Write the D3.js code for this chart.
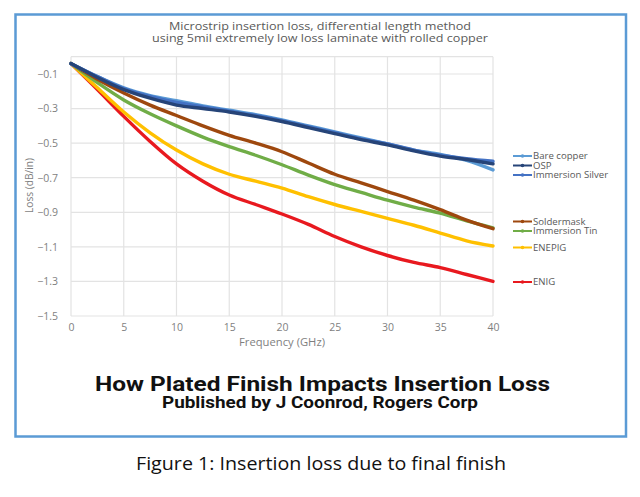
<!DOCTYPE html>
<html><head><meta charset="utf-8">
<script src="https://cdn.jsdelivr.net/npm/d3@7"></script>
<style>
html,body{margin:0;padding:0;background:#fff;}
svg{display:block;}
</style></head>
<body>
<svg id="chart" width="640" height="497"></svg>
<script>
// ---- data ----
const freqs = [0, 2.5, 5, 7.5, 10, 12.5, 15, 17.5, 20, 22.5, 25, 27.5, 30, 32.5, 35, 37.5, 40];
const seriesNames = ["Bare copper", "OSP", "Immersion Silver", "Soldermask", "Immersion Tin", "ENEPIG", "ENIG"];
const bareCopper = [-0.04, -0.115, -0.18, -0.225, -0.255, -0.285, -0.31, -0.335, -0.365, -0.40, -0.435, -0.47, -0.505, -0.54, -0.565, -0.60, -0.655];
const osp = [-0.04, -0.12, -0.19, -0.24, -0.28, -0.30, -0.32, -0.345, -0.375, -0.41, -0.445, -0.48, -0.51, -0.545, -0.575, -0.595, -0.62];
const immersionSilver = [-0.04, -0.115, -0.185, -0.23, -0.265, -0.29, -0.315, -0.34, -0.37, -0.405, -0.44, -0.475, -0.505, -0.54, -0.57, -0.59, -0.605];
const soldermask = [-0.04, -0.13, -0.21, -0.28, -0.34, -0.40, -0.455, -0.50, -0.55, -0.615, -0.68, -0.73, -0.78, -0.83, -0.885, -0.945, -0.995];
const immersionTin = [-0.04, -0.15, -0.25, -0.33, -0.40, -0.465, -0.52, -0.57, -0.625, -0.685, -0.74, -0.785, -0.83, -0.87, -0.905, -0.95, -0.99];
const enepig = [-0.04, -0.18, -0.32, -0.44, -0.54, -0.62, -0.68, -0.72, -0.76, -0.81, -0.855, -0.895, -0.935, -0.975, -1.02, -1.065, -1.095];
const enig = [-0.04, -0.19, -0.345, -0.49, -0.62, -0.72, -0.80, -0.855, -0.91, -0.97, -1.04, -1.10, -1.15, -1.19, -1.22, -1.26, -1.30];
const xTicks = [0, 5, 10, 15, 20, 25, 30, 35, 40];
const yTicks = [-0.1, -0.3, -0.5, -0.7, -0.9, -1.1, -1.3, -1.5];
const titleLines = ["Microstrip insertion loss, differential  length method", "using 5mil extremely  low loss laminate with rolled copper"];
const headline = "How Plated Finish Impacts Insertion Loss";
const subline = "Published by J Coonrod, Rogers Corp";
const caption = "Figure 1: Insertion loss due to final finish";

// ---- style / layout ----
const colors = ["#5b9bd5", "#264478", "#4472c4", "#9e480e", "#70ad47", "#ffc000", "#e8191f"];
const drawOrder = [6, 5, 4, 3, 0, 2, 1];
const legendRowY = [156, 165.5, 175, 221.5, 231, 247.5, 282];
const values = [bareCopper, osp, immersionSilver, soldermask, immersionTin, enepig, enig];

const svg = d3.select("#chart");
const plot = {left: 71, right: 493, top: 56.7, bottom: 316};
const x = d3.scaleLinear().domain([0, 40]).range([plot.left, plot.right]);
const y = d3.scaleLinear().domain([-1.5, 0]).range([plot.bottom, plot.top]);
const font = "'Open Sans', sans-serif";
const boldFont = "Roboto, 'Open Sans', sans-serif";

function fitText(sel, width) {
  sel.attr("textLength", width).attr("lengthAdjust", "spacingAndGlyphs");
}

// border box
svg.append("rect").attr("x", 15.5).attr("y", 14.5).attr("width", 610.5).attr("height", 422)
  .attr("fill", "none").attr("stroke", "#5b9bd5").attr("stroke-width", 2.5);

// title
const titleWidths = [302, 336];
titleLines.forEach((t, i) => {
  svg.append("text").attr("x", 320).attr("y", 30 + i * 12)
    .attr("text-anchor", "middle").attr("font-family", font).attr("font-size", 10.8)
    .attr("fill", "#595959").text(t).call(fitText, titleWidths[i]);
});

// gridlines
const grid = svg.append("g");
grid.selectAll("line.h").data(yTicks.concat([0])).join("line")
  .attr("x1", plot.left).attr("x2", plot.right)
  .attr("y1", d => y(d)).attr("y2", d => y(d))
  .attr("stroke", "#e3e3e3").attr("stroke-width", 1.2);
grid.selectAll("line.v").data(xTicks).join("line")
  .attr("y1", plot.top).attr("y2", plot.bottom)
  .attr("x1", d => x(d)).attr("x2", d => x(d))
  .attr("stroke", "#e3e3e3").attr("stroke-width", 1.2);

// axes
const xAxis = svg.append("g").attr("transform", `translate(0,${plot.bottom})`)
  .call(d3.axisBottom(x).tickValues(xTicks).tickSize(0).tickPadding(8).tickFormat(d3.format("d")));
const yAxis = svg.append("g").attr("transform", `translate(${plot.left},0)`)
  .call(d3.axisLeft(y).tickValues(yTicks).tickSize(0).tickPadding(13).tickFormat(d3.format(".1f")));
[xAxis, yAxis].forEach(a => {
  a.select(".domain").remove();
  a.selectAll("text").attr("font-family", font).attr("font-size", 10.5).attr("fill", "#7f7f7f");
});

svg.append("text").attr("x", 282).attr("y", 346).attr("text-anchor", "middle")
  .attr("font-family", font).attr("font-size", 10).attr("fill", "#7f7f7f").text("Frequency (GHz)")
  .call(fitText, 86);
svg.append("text").attr("transform", "translate(32.5,185.5) rotate(-90)").attr("text-anchor", "middle")
  .attr("font-family", font).attr("font-size", 10).attr("fill", "#7f7f7f").text("Loss (dB/in)")
  .call(fitText, 55);

// lines
const line = d3.line().x(d => x(d[0])).y(d => y(d[1])).curve(d3.curveMonotoneX);
const linesG = svg.append("g");
drawOrder.forEach(i => {
  linesG.append("path").datum(freqs.map((f, k) => [f, values[i][k]]))
    .attr("d", line).attr("fill", "none").attr("stroke", colors[i])
    .attr("stroke-width", 3.4).attr("stroke-linejoin", "round").attr("stroke-linecap", "round");
});

// legend
const leg = svg.append("g");
seriesNames.forEach((name, i) => {
  const g = leg.append("g").attr("transform", `translate(513,${legendRowY[i]})`);
  g.append("line").attr("x1", 0).attr("x2", 19).attr("stroke", colors[i]).attr("stroke-width", 2);
  g.append("circle").attr("cx", 9.5).attr("r", 1.8).attr("fill", colors[i]);
  g.append("text").attr("x", 20).attr("y", 0).attr("dy", "0.35em")
    .attr("font-family", font).attr("font-size", 9.6).attr("fill", "#595959").text(name);
});

// bottom texts
svg.append("text").attr("x", 322.5).attr("y", 391).attr("text-anchor", "middle")
  .attr("font-family", boldFont).attr("font-weight", "bold").attr("font-size", 21).attr("fill", "#111")
  .text(headline).call(fitText, 455);
svg.append("text").attr("x", 320).attr("y", 408).attr("text-anchor", "middle")
  .attr("font-family", boldFont).attr("font-weight", "bold").attr("font-size", 16).attr("fill", "#111")
  .text(subline).call(fitText, 316);
svg.append("text").attr("x", 321).attr("y", 470).attr("text-anchor", "middle")
  .attr("font-family", font).attr("font-size", 18).attr("fill", "#111")
  .text(caption).call(fitText, 370);
</script>
</body></html>
